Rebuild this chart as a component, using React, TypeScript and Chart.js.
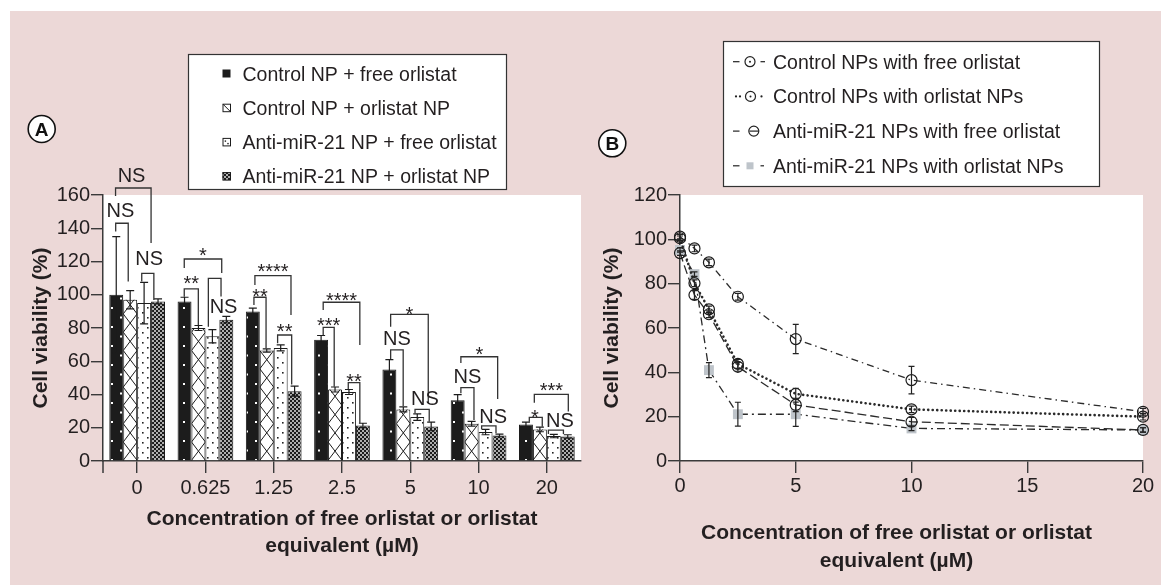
import React, { useEffect, useRef } from "react";
import { Chart, registerables } from "chart.js";

Chart.register(...registerables);

const FAMILY = "'Liberation Sans', Arial, Helvetica, sans-serif";
const INK = "#231f20";
const AXIS = "#3a3a3a";
const BAR_INK = "#1c1c1c";
const PINK = "#ecd8d7";
const SQUARE_GREY = "#bec4ca";

// ---------------- Panel A data ----------------
const concentrationLabels = ["0", "0.625", "1.25", "2.5", "5", "10", "20"];
const seriesNamesA = [
  "Control NP + free orlistat",
  "Control NP + orlistat NP",
  "Anti-miR-21 NP + free orlistat",
  "Anti-miR-21 NP + orlistat NP",
];
const ctrlFree = [100, 96, 90, 73, 55, 36.5, 22];
const ctrlFreeErr = [35, 2.5, 2, 2.5, 6, 3.4, 1.4];
const ctrlNP = [97, 80, 66.5, 43, 31, 22.4, 19];
const ctrlNPErr = [5.5, 1.5, 1, 1.5, 1.5, 1.4, 1.4];
const antiFree = [95, 75, 68, 41.5, 26.4, 17.4, 15];
const antiFreeErr = [12.5, 4, 1.8, 1.5, 2, 1.6, 1];
const antiNP = [96, 85, 42, 21.4, 20.8, 15.4, 14.8];
const antiNPErr = [1.5, 2, 3, 1.3, 2.6, 0.8, 1];

// significance brackets:
// [group, fromBar, toBar, topValue, leftLegEnd, rightLegEnd, label, labelValue, labelBar|null]
const significance: [number, number, number, number, number, number, string, number, number | null][] = [
  [0, 0.45, 3.0, 164.2, 159.4, 131.1, "NS", 172, 1.6],
  [0, 0.46, 1.36, 143.0, 138, 107.9, "NS", 151, 0.8],
  [0, 2.33, 3.2, 112.9, 107.9, 96.8, "NS", 122.3, 2.86],
  [1, 0.48, 3.17, 121.5, 116.1, 113.1, "*", 126.9, null],
  [1, 0.48, 1.49, 103.5, 98.8, 81.8, "**", 109.7, null],
  [1, 2.21, 3.12, 109.9, 80.8, 99, "NS", 93.4, 3.3],
  [2, 0.65, 3.24, 111.5, 105.9, 87.8, "****", 116.9, null],
  [2, 0.58, 1.45, 98.5, 93.8, 67.8, "**", 102.3, null],
  [2, 2.28, 3.29, 75.8, 70.8, 46, "**", 80.8, null],
  [3, 0.65, 3.28, 95.5, 90.8, 69.8, "****", 99.8, null],
  [3, 0.65, 1.44, 80.4, 75.8, 44.7, "***", 84.8, null],
  [3, 2.45, 3.28, 47.1, 43.3, 22.9, "**", 50.7, null],
  [4, 0.59, 3.29, 88.2, 80.8, 34.9, "*", 91.4, null],
  [4, 0.59, 1.49, 66.8, 61.4, 33.1, "NS", 74.0, null],
  [4, 2.34, 3.36, 31.1, 28.7, 23.6, "NS", 37.9, 3.05],
  [5, 0.73, 3.37, 62.7, 58.9, 37.3, "*", 67.4, null],
  [5, 0.73, 1.67, 44.1, 40.7, 24.7, "NS", 51.1, null],
  [5, 2.22, 3.25, 21.1, 19.2, 16.7, "NS", 27.1, 3.05],
  [6, 1.1, 3.54, 40.1, 35.1, 29.7, "***", 45.7, null],
  [6, 0.74, 1.67, 26.3, 23.6, 20.6, "*", 29.1, 1.15],
  [6, 2.11, 3.19, 18.6, 16.2, 16.2, "NS", 24.7, 2.94],
];

const yTicksA = [0, 20, 40, 60, 80, 100, 120, 140, 160];

// ---------------- Panel B data ----------------
const concentrationsB = [0, 0.625, 1.25, 2.5, 5, 10, 20];
const seriesNamesB = [
  "Control NPs with free orlistat",
  "Control NPs with orlistat NPs",
  "Anti-miR-21 NPs with free orlistat",
  "Anti-miR-21 NPs with orlistat NPs",
];
const ctrlFreeB = [101.2, 95.9, 89.6, 74.1, 55.0, 36.5, 22.2];
const ctrlFreeBErr = [1, 1.5, 1.5, 1.5, 6.6, 6.2, 1.5];
const ctrlNPB = [100.5, 80.2, 68.4, 43.8, 30.3, 23.3, 20.0];
const ctrlNPBErr = [1, 1.5, 1.5, 2, 2.5, 1.5, 1.5];
const antiFreeB = [93.8, 74.9, 66.2, 42.5, 25.3, 17.7, 14.0];
const antiFreeBErr = [1, 2, 1.5, 2, 3, 2, 1];
const antiNPB = [95.2, 84.3, 41.0, 21.1, 21.1, 14.7, 14.0];
const antiNPBErr = [1, 1, 3.4, 5.4, 5.5, 1, 1];

const xTicksB = [0, 5, 10, 15, 20];
const yTicksB = [0, 20, 40, 60, 80, 100, 120];

const errorsA = [ctrlFreeErr, ctrlNPErr, antiFreeErr, antiNPErr];
const errorsB = [ctrlFreeBErr, ctrlNPBErr, antiFreeBErr, antiNPBErr];

function tile(ctx: CanvasRenderingContext2D, w: number, h: number, draw: (g: CanvasRenderingContext2D) => void) {
  const c = document.createElement("canvas");
  c.width = w;
  c.height = h;
  const g = c.getContext("2d")!;
  draw(g);
  return ctx.createPattern(c, "repeat")!;
}

function panelLabel(ctx: CanvasRenderingContext2D, x: number, y: number, t: string) {
  ctx.save();
  ctx.beginPath();
  ctx.arc(x, y, 13.5, 0, Math.PI * 2);
  ctx.fillStyle = "#fff";
  ctx.fill();
  ctx.lineWidth = 1.6;
  ctx.strokeStyle = "#111";
  ctx.stroke();
  ctx.fillStyle = "#111";
  ctx.font = `bold 19px ${FAMILY}`;
  ctx.textAlign = "center";
  ctx.textBaseline = "alphabetic";
  ctx.fillText(t, x, y + 7);
  ctx.restore();
}

function errorBar(ctx: CanvasRenderingContext2D, x: number, yTop: number, yBot: number, cap: number) {
  ctx.beginPath();
  ctx.moveTo(x, yTop);
  ctx.lineTo(x, yBot);
  ctx.moveTo(x - cap / 2, yTop);
  ctx.lineTo(x + cap / 2, yTop);
  ctx.moveTo(x - cap / 2, yBot);
  ctx.lineTo(x + cap / 2, yBot);
  ctx.stroke();
}

export default function App() {
  const refA = useRef<HTMLCanvasElement>(null);
  const refB = useRef<HTMLCanvasElement>(null);

  useEffect(() => {
    const cA = refA.current!;
    const cB = refB.current!;
    const ctxA = cA.getContext("2d")!;

    const patBlackDots = tile(ctxA, 18, 19, (g) => {
      g.fillStyle = BAR_INK;
      g.fillRect(0, 0, 18, 19);
      g.fillStyle = "#fff";
      g.fillRect(3, 3, 2, 2);
      g.fillRect(12, 12.5, 2, 2);
    });
    const patDots = tile(ctxA, 10, 10, (g) => {
      g.fillStyle = "#fff";
      g.fillRect(0, 0, 10, 10);
      g.fillStyle = "#222";
      g.fillRect(2, 2, 1.6, 1.6);
      g.fillRect(7, 7, 1.6, 1.6);
    });
    const patChecker = tile(ctxA, 4, 4, (g) => {
      g.fillStyle = BAR_INK;
      g.fillRect(0, 0, 4, 4);
      g.fillStyle = "#fff";
      g.fillRect(0.2, 0.2, 1.6, 1.6);
      g.fillRect(2.2, 2.2, 1.6, 1.6);
    });

    const textFont = (size: number, bold = false) => `${bold ? "bold " : ""}${size}px ${FAMILY}`;

    const pluginA = {
      id: "panelA",
      beforeDraw(chart: any) {
        const { ctx, chartArea: a } = chart;
        ctx.save();
        ctx.fillStyle = "#fff";
        ctx.fillRect(a.left, a.top, a.right - a.left, a.bottom - a.top);
        ctx.restore();
      },
      afterDatasetsDraw(chart: any) {
        const { ctx, chartArea: a } = chart;
        const xS = chart.scales.x;
        const yS = chart.scales.y;
        // cross hatching on "Control NP + orlistat NP"
        const meta1 = chart.getDatasetMeta(1);
        meta1.data.forEach((bar: any) => {
          const { x, y, base, width } = bar.getProps(["x", "y", "base", "width"], true);
          const l = x - width / 2;
          const r = x + width / 2;
          ctx.save();
          ctx.beginPath();
          ctx.rect(l, y, width, base - y);
          ctx.clip();
          ctx.strokeStyle = BAR_INK;
          ctx.lineWidth = 1;
          const P = 18.3;
          for (let yy = base + P; yy > y - P; yy -= P) {
            ctx.beginPath();
            ctx.moveTo(l, yy);
            ctx.lineTo(r, yy - P);
            ctx.moveTo(r, yy);
            ctx.lineTo(l, yy - P);
            ctx.stroke();
          }
          ctx.restore();
        });
        // error bars
        ctx.save();
        ctx.strokeStyle = BAR_INK;
        ctx.lineWidth = 1.2;
        chart.data.datasets.forEach((ds: any, i: number) => {
          const meta = chart.getDatasetMeta(i);
          meta.data.forEach((bar: any, j: number) => {
            const v = ds.data[j];
            const e = errorsA[i][j];
            errorBar(ctx, bar.x, yS.getPixelForValue(v + e), yS.getPixelForValue(v - e), 8);
          });
        });
        ctx.restore();
        // y axis extension below the x axis
        ctx.save();
        ctx.strokeStyle = AXIS;
        ctx.lineWidth = 1.5;
        ctx.beginPath();
        ctx.moveTo(a.left, a.bottom);
        ctx.lineTo(a.left, a.bottom + 12);
        ctx.stroke();
        ctx.restore();
        // significance brackets
        const bw = chart.getDatasetMeta(0).data[0].width;
        const fx = (g: number, f: number) => xS.getPixelForValue(g) - 2 * bw + f * bw;
        ctx.save();
        ctx.strokeStyle = "#333";
        ctx.lineWidth = 1.3;
        ctx.fillStyle = INK;
        ctx.font = textFont(20);
        ctx.textAlign = "center";
        ctx.textBaseline = "alphabetic";
        significance.forEach(([g, f1, f2, top, le, re, label, ly, lf]) => {
          const x1 = fx(g, f1);
          const x2 = fx(g, f2);
          const yt = yS.getPixelForValue(top);
          ctx.beginPath();
          ctx.moveTo(x1, yS.getPixelForValue(le));
          ctx.lineTo(x1, yt);
          ctx.lineTo(x2, yt);
          ctx.lineTo(x2, yS.getPixelForValue(re));
          ctx.stroke();
          const lx = lf == null ? (x1 + x2) / 2 : fx(g, lf);
          const isStar = label.indexOf("*") >= 0;
          const baseY = yS.getPixelForValue(ly) + (isStar ? 0.58 : 0.36) * 20;
          ctx.fillText(label, lx, baseY);
        });
        ctx.restore();
      },
      afterDraw(chart: any) {
        const ctx = chart.ctx;
        // legend
        ctx.save();
        ctx.fillStyle = "#fff";
        ctx.fillRect(188.5, 54.5, 318, 135);
        ctx.strokeStyle = "#333";
        ctx.lineWidth = 1.2;
        ctx.strokeRect(188.5, 54.5, 318, 135);
        chart.data.datasets.forEach((ds: any, i: number) => {
          const cy = 73.5 + i * 34.2;
          const mx = 222.5;
          const my = cy - 4;
          ctx.lineWidth = 1;
          ctx.strokeStyle = BAR_INK;
          if (i === 0) {
            ctx.fillStyle = BAR_INK;
            ctx.fillRect(mx, my, 8, 8);
          } else if (i === 1) {
            ctx.strokeRect(mx + 0.5, my + 0.5, 7.5, 7.5);
            ctx.beginPath();
            ctx.moveTo(mx + 0.5, my + 0.5);
            ctx.lineTo(mx + 8, my + 8);
            ctx.stroke();
          } else if (i === 2) {
            ctx.strokeRect(mx + 0.5, my + 0.5, 7.5, 7.5);
            ctx.fillStyle = BAR_INK;
            ctx.fillRect(mx + 2.2, my + 2.5, 1.4, 1.4);
            ctx.fillRect(mx + 4.8, my + 5, 1.4, 1.4);
          } else {
            ctx.fillStyle = patChecker;
            ctx.fillRect(mx, my, 8, 8);
            ctx.strokeRect(mx + 0.5, my + 0.5, 7.5, 7.5);
          }
          ctx.fillStyle = INK;
          ctx.font = textFont(19.5);
          ctx.textAlign = "left";
          ctx.textBaseline = "alphabetic";
          ctx.fillText(ds.label, 242.5, cy + 7);
        });
        ctx.restore();
        panelLabel(ctx, 41.7, 129, "A");
      },
    };

    const chartA = new Chart(cA, {
      type: "bar",
      data: {
        labels: concentrationLabels,
        datasets: [
          { label: seriesNamesA[0], data: ctrlFree, backgroundColor: patBlackDots as any, borderColor: BAR_INK, borderWidth: 1 },
          { label: seriesNamesA[1], data: ctrlNP, backgroundColor: "#fff", borderColor: BAR_INK, borderWidth: 1 },
          { label: seriesNamesA[2], data: antiFree, backgroundColor: patDots as any, borderColor: BAR_INK, borderWidth: 1 },
          { label: seriesNamesA[3], data: antiNP, backgroundColor: patChecker as any, borderColor: BAR_INK, borderWidth: 1 },
        ],
      },
      options: {
        animation: false,
        responsive: false,
        events: [],
        layout: { padding: { left: 29, right: 580, top: 195, bottom: 25.5 } },
        datasets: { bar: { categoryPercentage: 0.816, barPercentage: 1 } } as any,
        plugins: { legend: { display: false }, tooltip: { enabled: false } },
        scales: {
          x: {
            type: "category",
            offset: true,
            afterFit: (s: any) => {
              s.height = 98.5;
            },
            grid: { offset: false, drawOnChartArea: false, tickLength: 12, color: AXIS, lineWidth: 1.4 },
            border: { display: true, color: AXIS, width: 1.5 },
            ticks: { color: INK, font: { family: FAMILY, size: 20 }, padding: 3, autoSkip: false, maxRotation: 0 },
            title: {
              display: true,
              text: ["Concentration of free orlistat or orlistat", "equivalent (\u00b5M)"],
              color: INK,
              font: { family: FAMILY, size: 21, weight: "bold", lineHeight: 27 / 21 },
              padding: { top: 0, bottom: 0 },
            },
          },
          y: {
            min: 0,
            max: 160,
            afterFit: (s: any) => {
              s.width = 74;
            },
            afterBuildTicks: (s: any) => {
              s.ticks = yTicksA.map((v) => ({ value: v }));
            },
            grid: { drawOnChartArea: false, tickLength: 12, color: AXIS, lineWidth: 1.4 },
            border: { display: true, color: AXIS, width: 1.5 },
            ticks: { color: INK, font: { family: FAMILY, size: 20 }, padding: 1 },
            title: {
              display: true,
              text: "Cell viability (%)",
              color: INK,
              font: { family: FAMILY, size: 21, weight: "bold", lineHeight: 1.2 },
              padding: { top: 0, bottom: 0 },
            },
          },
        },
      } as any,
      plugins: [pluginA as any],
    });

    const legendGlyphB = ["dashCircle", "dotCircle", "dashTheta", "dashSquare"];

    const pluginB = {
      id: "panelB",
      beforeDraw(chart: any) {
        const { ctx, chartArea: a } = chart;
        ctx.save();
        ctx.fillStyle = "#fff";
        ctx.fillRect(a.left, a.top, a.right - a.left, a.bottom - a.top);
        ctx.restore();
      },
      afterDatasetsDraw(chart: any) {
        const ctx = chart.ctx;
        const yS = chart.scales.y;
        ctx.save();
        ctx.strokeStyle = "#222";
        ctx.lineWidth = 1.2;
        chart.data.datasets.forEach((ds: any, i: number) => {
          const meta = chart.getDatasetMeta(i);
          meta.data.forEach((pt: any, j: number) => {
            const v = ds.data[j].y;
            const e = errorsB[i][j];
            errorBar(ctx, pt.x, yS.getPixelForValue(v + e), yS.getPixelForValue(v - e), 6);
          });
        });
        ctx.restore();
      },
      afterDraw(chart: any) {
        const ctx = chart.ctx;
        ctx.save();
        // legend box
        ctx.fillStyle = "#fff";
        ctx.fillRect(723.5, 41.5, 376, 145);
        ctx.strokeStyle = "#333";
        ctx.lineWidth = 1.2;
        ctx.strokeRect(723.5, 41.5, 376, 145);
        chart.data.datasets.forEach((ds: any, i: number) => {
          const cy = 61.7 + i * 34.7;
          const kind = legendGlyphB[i];
          ctx.strokeStyle = "#222";
          ctx.fillStyle = "#222";
          ctx.lineWidth = 1.2;
          const seg = (x1: number, x2: number) => {
            ctx.beginPath();
            ctx.moveTo(x1, cy);
            ctx.lineTo(x2, cy);
            ctx.stroke();
          };
          const dot = (x: number, r = 1.1) => {
            ctx.beginPath();
            ctx.arc(x, cy, r, 0, Math.PI * 2);
            ctx.fill();
          };
          const circ = (x: number) => {
            ctx.beginPath();
            ctx.arc(x, cy, 5, 0, Math.PI * 2);
            ctx.stroke();
          };
          if (kind === "dashCircle") {
            seg(733, 739.5);
            circ(750);
            dot(750, 1);
            seg(760.5, 765);
          } else if (kind === "dotCircle") {
            dot(736);
            dot(740);
            circ(750.5);
            dot(750.5, 1);
            dot(761.5);
          } else if (kind === "dashTheta") {
            seg(733, 739.5);
            circ(753.8);
            seg(749.5, 758.8);
          } else {
            seg(733, 739.5);
            ctx.fillStyle = SQUARE_GREY;
            ctx.fillRect(746.5, cy - 3.5, 7, 7);
            ctx.fillStyle = "#222";
            seg(760.5, 764);
          }
          ctx.fillStyle = INK;
          ctx.font = textFont(19.5);
          ctx.textAlign = "left";
          ctx.textBaseline = "alphabetic";
          ctx.fillText(ds.label, 773, cy + 7);
        });
        // x axis title
        ctx.fillStyle = INK;
        ctx.font = textFont(21, true);
        ctx.textAlign = "center";
        ctx.textBaseline = "middle";
        ctx.fillText("Concentration of free orlistat or orlistat", 896.5, 533.6);
        ctx.fillText("equivalent (\u00b5M)", 896.5, 561.4);
        ctx.restore();
        panelLabel(ctx, 612.3, 143.3, "B");
      },
    };

    const lineBase = {
      borderColor: "#2a2a2a",
      borderWidth: 1.3,
      fill: false,
      tension: 0,
      clip: false as any,
      pointRadius: 5.5,
      pointBorderWidth: 1.2,
      pointBorderColor: "#1a1a1a",
      pointBackgroundColor: "rgba(0,0,0,0)",
      pointStyle: "circle",
    };
    const toPts = (vals: number[]) => concentrationsB.map((x, i) => ({ x, y: vals[i] }));

    const chartB = new Chart(cB, {
      type: "line",
      data: {
        datasets: [
          { ...lineBase, label: seriesNamesB[0], data: toPts(ctrlFreeB), borderDash: [7, 4, 1.5, 4] },
          { ...lineBase, label: seriesNamesB[1], data: toPts(ctrlNPB), borderDash: [0.1, 4.4], borderWidth: 2.6, borderCapStyle: "round" },
          { ...lineBase, label: seriesNamesB[2], data: toPts(antiFreeB), borderDash: [9, 4] },
          {
            ...lineBase,
            label: seriesNamesB[3],
            data: toPts(antiNPB),
            borderDash: [8, 4, 2, 4],
            pointStyle: "rect",
            pointRadius: 7,
            pointBorderWidth: 0,
            pointBackgroundColor: SQUARE_GREY,
            pointBorderColor: SQUARE_GREY,
          },
        ] as any,
      },
      options: {
        animation: false,
        responsive: false,
        events: [],
        layout: { padding: { left: 600, right: 18, top: 195, bottom: 0 } },
        plugins: { legend: { display: false }, tooltip: { enabled: false } },
        scales: {
          x: {
            type: "linear",
            min: 0,
            max: 20,
            afterFit: (s: any) => {
              s.height = 124;
            },
            afterBuildTicks: (s: any) => {
              s.ticks = xTicksB.map((v) => ({ value: v }));
            },
            grid: { drawOnChartArea: false, tickLength: 12, color: AXIS, lineWidth: 1.4 },
            border: { display: true, color: AXIS, width: 1.5 },
            ticks: { color: INK, font: { family: FAMILY, size: 20 }, padding: 1, maxRotation: 0 },
          },
          y: {
            min: 0,
            max: 120,
            afterFit: (s: any) => {
              s.width = 80;
            },
            afterBuildTicks: (s: any) => {
              s.ticks = yTicksB.map((v) => ({ value: v }));
            },
            grid: { drawOnChartArea: false, tickLength: 12, color: AXIS, lineWidth: 1.4 },
            border: { display: true, color: AXIS, width: 1.5 },
            ticks: { color: INK, font: { family: FAMILY, size: 20 }, padding: 1 },
            title: {
              display: true,
              text: "Cell viability (%)",
              color: INK,
              font: { family: FAMILY, size: 21, weight: "bold", lineHeight: 1.2 },
              padding: { top: 0, bottom: 0 },
            },
          },
        },
      } as any,
      plugins: [pluginB as any],
    });

    return () => {
      chartA.destroy();
      chartB.destroy();
    };
  }, []);

  return (
    <div style={{ position: "absolute", left: 0, top: 0, width: 1161, height: 585, background: "#fff", overflow: "hidden" }}>
      <div style={{ position: "absolute", left: 10, top: 11, right: 0, bottom: 0, background: PINK }} />
      <canvas ref={refA} width={1161} height={585} style={{ position: "absolute", left: 0, top: 0, width: 1161, height: 585 }} />
      <canvas ref={refB} width={1161} height={585} style={{ position: "absolute", left: 0, top: 0, width: 1161, height: 585 }} />
    </div>
  );
}
